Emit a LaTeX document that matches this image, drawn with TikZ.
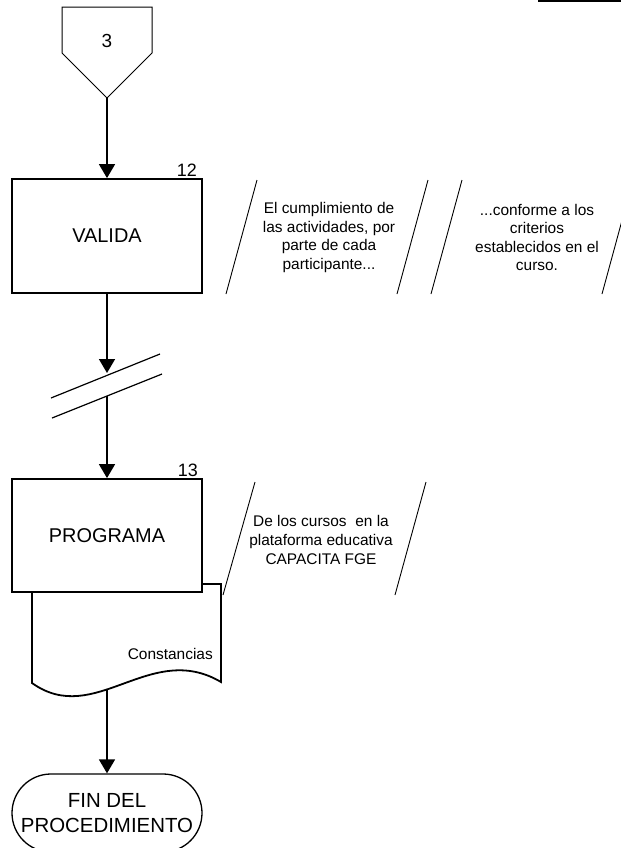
\documentclass[tikz,border=0pt]{standalone}
\usepackage{fontspec}
\setmainfont{Liberation Sans}
\usetikzlibrary{arrows.meta}
\begin{document}
\begin{tikzpicture}[x=1bp,y=-1bp,
  proc/.style={draw, line width=1.8bp, fill=white, minimum width=190bp, minimum height=114bp, inner sep=0pt, font=\fontsize{20}{24}\selectfont},
  term/.style={draw, line width=1.3bp, fill=white, rounded corners=39bp, minimum width=190bp, minimum height=78bp, inner sep=0pt, align=center, font=\fontsize{20.5}{25}\selectfont},
  num/.style={font=\fontsize{18}{20}\selectfont, inner sep=0pt, anchor=base east},
  note/.style={align=center, font=\fontsize{15.5}{18.7}\selectfont, inner sep=0pt},
  doclabel/.style={font=\fontsize{15.5}{18}\selectfont, inner sep=0pt, anchor=base east},
  slash/.style={line width=0.9bp},
  brk/.style={line width=1.2bp},
  flow/.style={line width=1.6bp, -{Triangle[length=14bp,width=16bp]}},
  plain/.style={line width=1.6bp},
  offpage/.style={line width=1bp, fill=white},
]
\clip (0,0) rectangle (621,848);
\useasboundingbox (0,0) rectangle (621,848);

% top-right rule
\draw[line width=1.5bp] (538,1) -- (621,1);

% off-page connector 3
\draw[offpage] (62,7) -- (152,7) -- (152,53) -- (107,98) -- (62,53) -- cycle;
\node[font=\fontsize{19}{22}\selectfont, inner sep=0pt] (c3) at (107,41) {3};
\coordinate (c3tip) at (107,98);

% step 12
\node[proc] (b12) at (107,236) {VALIDA};
\node[num] (n12) at (197,176) {12};

% notes for step 12
\draw[slash] (226,294) -- (257,180);
\draw[slash] (397,294) -- (428,180);
\node[note] (t1) at (329,237.5) {El cumplimiento de\\las actividades, por\\parte de cada\\participante...};
\draw[slash] (431,294) -- (462,180);
\draw[slash] (602,294) -- (633,180);
\node[note] (t2) at (537,237.5) {...conforme a los\\criterios\\establecidos en el\\curso.};

% break in connector
\coordinate (brkA) at (107,373);
\coordinate (brkB) at (107,396);
\draw[brk] (51,398) -- (160,354);
\draw[brk] (52,418) -- (162,374);

% document (behind step 13)
\draw[line width=1.8bp, fill=white] (32,584) -- (221,584) -- (221,682)
  .. controls (150,640) and (95,728) .. (32,683) -- cycle;
\node[doclabel] (doc) at (213,659) {Constancias};
\coordinate (docb) at (107,690);

% step 13
\node[proc, minimum height=113bp] (b13) at (107,535.5) {PROGRAMA};
\node[num] (n13) at (198,476.5) {13};

% note for step 13
\draw[slash] (223,595) -- (255,482);
\draw[slash] (395,595) -- (426,482);
\node[note] (t3) at (321,540) {De los cursos\ \ en la\\plataforma educativa\\CAPACITA FGE};

% terminal
\node[term] (fin) at (107,813) {FIN DEL\\PROCEDIMIENTO};

% connectors
\draw[flow] (c3tip) -- (b12.north);
\draw[flow] (b12.south) -- (brkA);
\draw[flow] (brkB) -- (b13.north);
\draw[flow] (docb) -- (fin.north);
\end{tikzpicture}
\end{document}
